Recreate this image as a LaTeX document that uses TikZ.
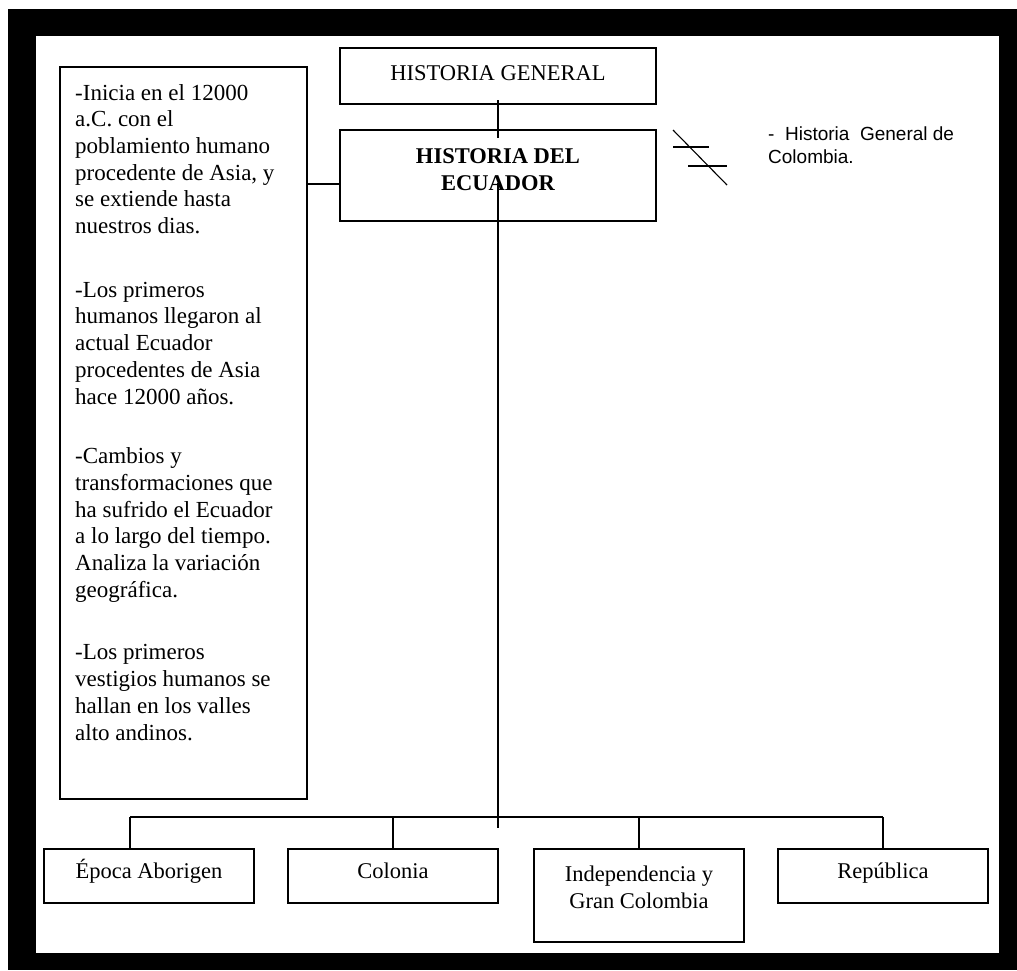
\documentclass[tikz,border=0pt]{standalone}
\usepackage{fontspec}
\setmainfont{Liberation Serif}
\newfontfamily\arialfont{Liberation Sans}
\begin{document}
\begin{tikzpicture}[x=1pt,y=-1pt,
  box/.style={draw=black, line width=1.3pt, fill=white, inner sep=0pt},
  ln/.style={draw=black, line width=1.2pt},
  txt/.style={inner sep=0pt, font=\fontsize{22.5}{26.7}\selectfont, anchor=base},
  sans/.style={inner sep=0pt, font=\arialfont\fontsize{19}{23}\selectfont, anchor=base west, align=left}]
\useasboundingbox (0,0) rectangle (1017,970);
\fill[black] (8,9) rectangle (1017,970);
\fill[white] (36,35.5) rectangle (999,953);

% boxes
\node[box, minimum width=247pt, minimum height=732pt] (left) at (183.5,433) {};
\node[box, minimum width=316pt, minimum height=56pt] (gen) at (498,76) {};
\node[box, minimum width=316pt, minimum height=91pt] (ecu) at (498,175.5) {};
\node[box, minimum width=210pt, minimum height=54pt] (b1) at (149,876) {};
\node[box, minimum width=210pt, minimum height=54pt] (b2) at (393,876) {};
\node[box, minimum width=210pt, minimum height=93pt] (b3) at (639,895.5) {};
\node[box, minimum width=210pt, minimum height=54pt] (b4) at (883,876) {};

% coordinates for connectors
\coordinate (vtop) at (498,100);
\coordinate (vgap1) at (498,138);
\coordinate (vgap2) at (498,183);
\coordinate (vbot) at (498,828);
\coordinate (barL) at (130,817);
\coordinate (barR) at (883,817);
\coordinate (j2) at (393,817);
\coordinate (j3) at (639,817);

% connectors
\draw[ln] (vtop) -- (vgap1);
\draw[ln] (vgap2) -- (vbot);
\draw[ln] (left.east |- 0,184) -- (ecu.west |- 0,184);
\draw[ln] (barL) -- (barR);
\draw[ln] (barL) -- (barL |- b1.north);
\draw[ln] (j2) -- (b2.north);
\draw[ln] (j3) -- (b3.north);
\draw[ln] (barR) -- (b4.north);

% texts (multi-line nodes: base = baseline of last line)
\node[txt] (tgen) at (498,80) {HISTORIA GENERAL};
\node[txt, font=\bfseries\fontsize{22.5}{27}\selectfont, align=center] (tecu) at (498,190) {HISTORIA DEL\\ECUADOR};
\node[txt, font=\fontsize{23}{26.7}\selectfont, anchor=base west, align=left] (tleft) at (75,740) {-Inicia en el 12000\\a.C. con el\\poblamiento humano\\procedente de Asia, y\\se extiende hasta\\nuestros dias.\\[37pt]-Los primeros\\humanos llegaron al\\actual Ecuador\\procedentes de Asia\\hace 12000 años.\\[33pt]-Cambios y\\transformaciones que\\ha sufrido el Ecuador\\a lo largo del tiempo.\\Analiza la variación\\geográfica.\\[36pt]-Los primeros\\vestigios humanos se\\hallan en los valles\\alto andinos.};
\node[txt] (t1) at (149,878) {Época Aborigen};
\node[txt] (t2) at (393,878) {Colonia};
\node[txt, align=center] (t3) at (639,908) {Independencia y\\Gran Colombia};
\node[txt] (t4) at (883,878) {República};

% Colombia note and symbol
\coordinate (s1) at (673,130);
\coordinate (s2) at (727,185);
\coordinate (h1a) at (673,147);
\coordinate (h1b) at (709,147);
\coordinate (h2a) at (688,166);
\coordinate (h2b) at (727,166);
\draw[line width=1.1pt] (s1) -- (s2);
\draw[line width=1.1pt] (h1a) -- (h1b);
\draw[line width=1.1pt] (h2a) -- (h2b);
\node[sans] (col) at (768,163) {-\ \ Historia\ \ General de\\Colombia.};
\end{tikzpicture}
\end{document}
